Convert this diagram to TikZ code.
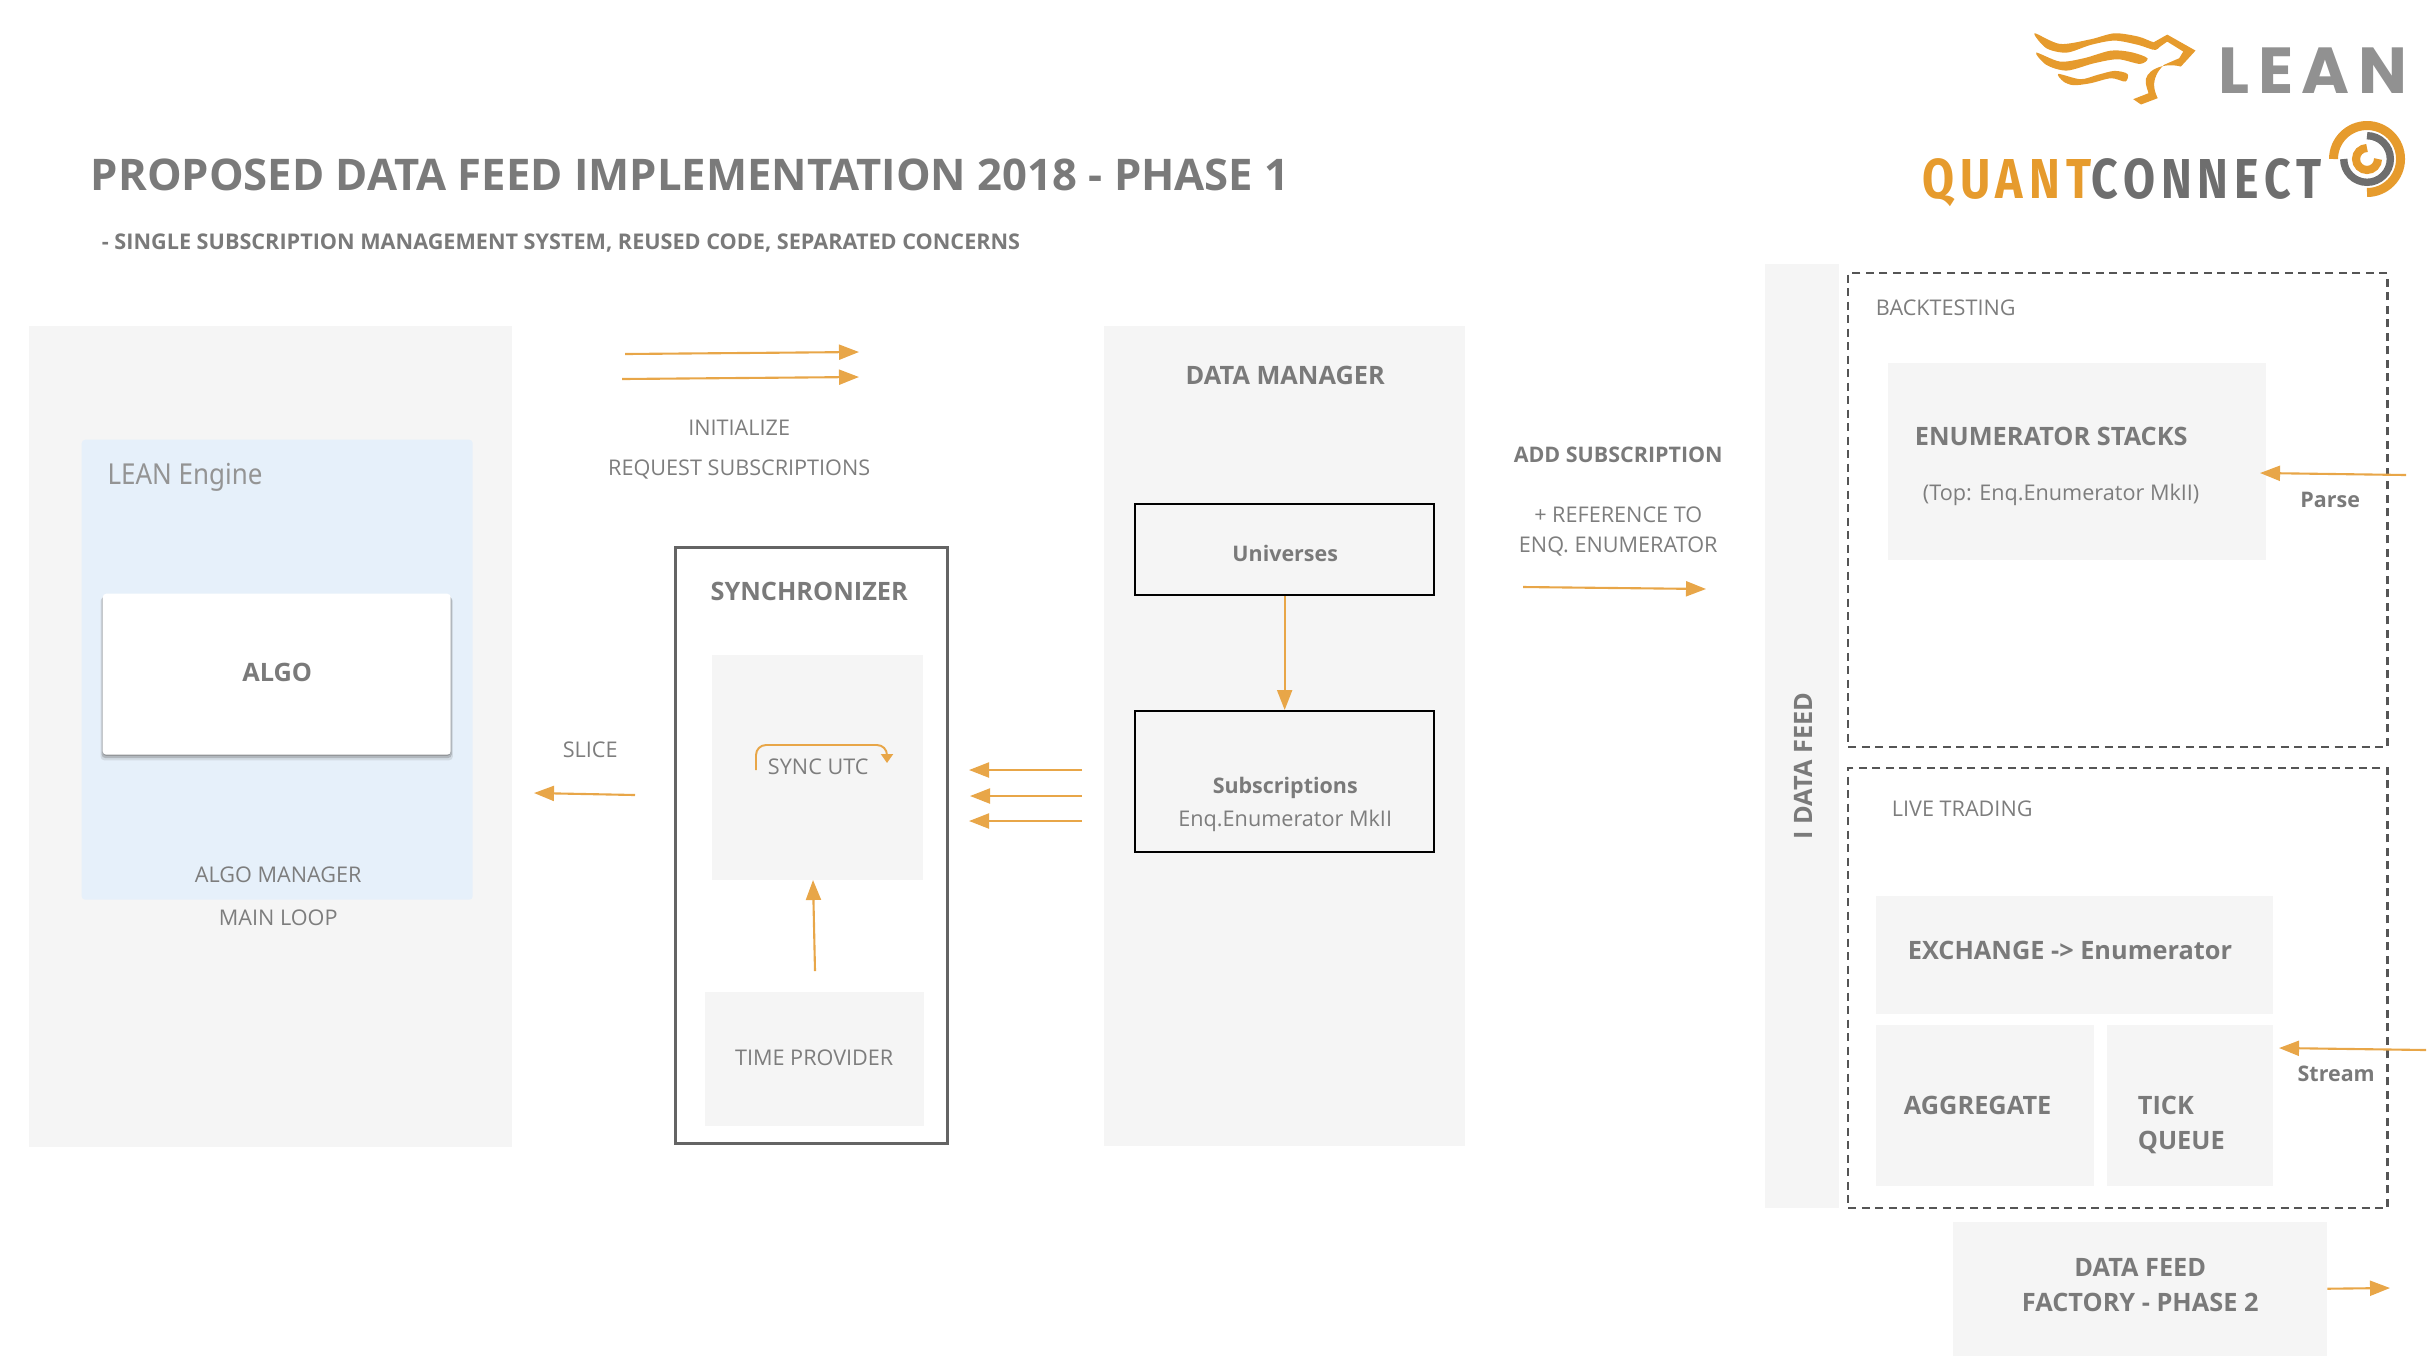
\documentclass[tikz,border=0pt]{standalone}
\usepackage{fontspec}
\setmainfont{Open Sans}
\newfontfamily\enginefont{Noto Sans}
\newfontfamily\leanfont[LetterSpace=13]{Poppins}
\newfontfamily\qcfont[LetterSpace=13]{Fira Sans}
\usetikzlibrary{arrows.meta,positioning,shadows}
\definecolor{panelgray}{RGB}{245,245,245}
\definecolor{engineblue}{RGB}{230,240,250}
\definecolor{txtgray}{RGB}{125,125,125}
\definecolor{headgray}{RGB}{122,122,122}
\definecolor{dashgray}{RGB}{85,85,85}
\definecolor{syncgray}{RGB}{100,100,100}
\definecolor{flow}{RGB}{232,166,72}
\definecolor{qcorange}{RGB}{230,155,45}
\definecolor{qcgray}{RGB}{110,110,110}
\definecolor{leangray}{RGB}{145,145,145}
\tikzset{
  sized/.style 2 args={minimum width=#1*0.01cm, minimum height=#2*0.01cm, inner sep=0pt, anchor=north west},
  panel/.style={fill=panelgray},
  blackbox/.style={draw=black, line width=0.65pt, align=center},
  dashbox/.style={draw=dashgray, line width=0.7pt, dash pattern=on 0.08cm off 0.055cm},
  softshadow/.style={drop shadow={shadow xshift=0cm, shadow yshift=-0.012cm, fill=black!60, opacity=0.4},
                     drop shadow={shadow xshift=0cm, shadow yshift=-0.028cm, shadow scale=1.006, fill=black!60, opacity=0.3},
                     drop shadow={shadow xshift=0cm, shadow yshift=-0.045cm, shadow scale=1.012, fill=black!60, opacity=0.15}},
  lbl/.style={inner sep=0pt, text depth=0pt, xshift=0.012cm, yshift=-0.002cm, text=txtgray, align=center, font=\fontsize{6.15}{8}\selectfont},
  lblb/.style={inner sep=0pt, text depth=0pt, xshift=0.012cm, yshift=-0.002cm, text=headgray, align=center, font=\fontsize{7.2}{10}\selectfont\bfseries},
  lbls/.style={lblb, font=\fontsize{6.1}{8}\selectfont\bfseries},
  flowarr/.style={-{Triangle[length=0.2cm, width=0.15cm]}, flow, line width=0.6pt},
}
\begin{document}
\begin{tikzpicture}[x=0.01cm, y=-0.01cm]
  \useasboundingbox (1,1) rectangle (2435,1367);
  % --- heading
  \node[lblb, anchor=west, font=\fontsize{12.4}{15}\selectfont\bfseries] (title) at (90,175)
       {PROPOSED DATA FEED IMPLEMENTATION 2018 - PHASE 1};
  \node[lblb, anchor=west, font=\fontsize{6.15}{8}\selectfont\bfseries] (subtitle) at (101,242)
       {- SINGLE SUBSCRIPTION MANAGEMENT SYSTEM, REUSED CODE, SEPARATED CONCERNS};
  % --- lean engine
  \node[panel, sized={483}{821}] (mainloop) at (29,326) {};
  \node[fill=engineblue, rounded corners=1pt, sized={391}{460}] (engine) at (82,440) {};
  \node[fill=white, rounded corners=1pt, sized={348}{161}, softshadow] (algo) at (103,594) {};
  \node[lblb] (algotxt) at (277,673) {ALGO};
  \node[inner sep=0pt, anchor=west, xscale=0.9, text=black!42, font=\fontsize{8.2}{9}\selectfont\enginefont] (enginetxt) at (108,478) {LEAN Engine};
  \node[lbl] (managertxt) at (278,875) {ALGO MANAGER};
  \node[lbl] (looptxt) at (278,918) {MAIN LOOP};
  \node[lbl] (slicetxt) at (590,750) {SLICE};
  \coordinate (sliceA) at (636,796);
  \coordinate (sliceB) at (535,794);
  \draw[flowarr] (sliceA) -- (sliceB);
  % --- top arrows
  \coordinate (initA) at (626,355);
  \coordinate (initB) at (860,353);
  \coordinate (reqA) at (623,380);
  \coordinate (reqB) at (860,378);
  \draw[flowarr] (initA) -- (initB);
  \draw[flowarr] (reqA) -- (reqB);
  \node[lbl] (inittxt) at (739,429) {INITIALIZE};
  \node[lbl] (reqtxt) at (739,468) {REQUEST SUBSCRIPTIONS};
  % --- synchronizer
  \node[draw=syncgray, line width=0.75pt, sized={272}{596}] (synchronizer) at (675,547) {};
  \node[lblb] (synctitle) at (809,592) {SYNCHRONIZER};
  \node[panel, sized={211}{225}] (syncbox) at (712,655) {};
  \node[panel, sized={219}{134}] (timebox) at (705,992) {};
  \node[lbl] (synctxt) at (818,767) {SYNC UTC};
  \node[lbl] (timetxt) at (814,1058) {TIME PROVIDER};
  \coordinate (loopA) at (757,771);
  \coordinate (loopB) at (888,764);
  \draw[-{Triangle[length=0.09cm, width=0.12cm]}, flow, line width=0.55pt, rounded corners=0.1cm]
       (loopA) -- (757,746) -- (888,746) -- (loopB);
  \coordinate (timeA) at (816,972);
  \coordinate (timeB) at (814,881);
  \draw[flowarr] (timeA) -- (timeB);
  \foreach \y/\x in {771/970, 797/971, 822/970}{
    \coordinate (feedA\y) at (1083,\y);
    \coordinate (feedB\y) at (\x,\y);
    \draw[flowarr] (feedA\y) -- (feedB\y);}
  % --- data manager
  \node[panel, sized={361}{820}] (manager) at (1104,326) {};
  \node[lblb] (managertitle) at (1285,376) {DATA MANAGER};
  \node[blackbox, sized={299}{91}] (universes) at (1135,504) {};
  \node[lbls] (universestxt) at (1285,554) {Universes};
  \node[blackbox, sized={299}{141}] (subscriptions) at (1135,711) {};
  \node[lbls] (subscrtxt) at (1285,786) {Subscriptions};
  \node[lbl] (mkiitxt) at (1285,819) {Enq.Enumerator MkII};
  \draw[flowarr] (universes) -- (subscriptions);
  % --- add subscription
  \node[lbls] (addtxt) at (1618,456) {ADD SUBSCRIPTION};
  \node[lbl] (reftxt) at (1618,515) {+ REFERENCE TO};
  \node[lbl] (enqtxt) at (1618,545) {ENQ. ENUMERATOR};
  \coordinate (addA) at (1524,588);
  \coordinate (addB) at (1707,590);
  \draw[flowarr] (addA) -- (addB);
  % --- data feed
  \node[panel, sized={74}{944}] (feedbar) at (1765,264) {};
  \node[lblb, rotate=90] (feedtxt) at (1803,767) {I DATA FEED};
  \node[dashbox, sized={539}{474}] (backtest) at (1848,273) {};
  \node[lbl, anchor=west] (backtxt) at (1875,308) {BACKTESTING};
  \node[panel, sized={378}{197}] (stacks) at (1888,363) {};
  \node[lblb, anchor=west] (stackstxt) at (1914,437) {ENUMERATOR STACKS};
  \node[lbl, anchor=west] (toptxt) at (1922,493) {(Top: Enq.Enumerator MkII)};
  \coordinate (parseA) at (2407,476);
  \coordinate (parseB) at (2261,474);
  \draw[flowarr] (parseA) -- (parseB);
  \node[lbls] (parsetxt) at (2330,501) {Parse};
  \node[dashbox, sized={539}{440}] (live) at (1848,768) {};
  \node[lbl, anchor=west] (livetxt) at (1891,809) {LIVE TRADING};
  \node[panel, sized={397}{118}] (exchange) at (1876,896) {};
  \node[panel, sized={218}{161}] (aggregate) at (1876,1025) {};
  \node[panel, sized={166}{161}] (tick) at (2107,1025) {};
  \node[lblb, anchor=west] (exchangetxt) at (1907,951) {EXCHANGE -> Enumerator};
  \node[lblb, anchor=west] (aggregatetxt) at (1903,1106) {AGGREGATE};
  \node[lblb, anchor=west] (ticktxt) at (2137,1106) {TICK};
  \node[lblb, anchor=west] (queuetxt) at (2137,1141) {QUEUE};
  \coordinate (streamA) at (2427,1051);
  \coordinate (streamB) at (2280,1049);
  \draw[flowarr] (streamA) -- (streamB);
  \node[lbls] (streamtxt) at (2336,1075) {Stream};
  \node[panel, sized={374}{134}] (factory) at (1953,1222) {};
  \node[lblb] (factorytxt) at (2140,1268) {DATA FEED};
  \node[lblb] (factorytxtb) at (2140,1303) {FACTORY - PHASE 2};
  \coordinate (factoryB) at (2391,1289);
  \draw[flowarr] (factory.east) -- (factoryB);
  % --- logos
  \begin{scope}[shift={(1901,1)}, x=0.0034cm, y=-0.00333cm]
    \fill[qcorange] plot[smooth cycle, tension=0.5] coordinates {(395,100) (470,132) (560,118) (630,100) (700,110) (745,127) (770,127) (750,150) (700,135) (630,122) (560,135) (490,158) (430,145)};
    \fill[qcorange] plot[smooth cycle, tension=0.5] coordinates {(400,158) (470,185) (540,175) (620,152) (680,157) (727,175) (705,192) (640,178) (570,190) (490,212) (430,195)};
    \fill[qcorange] plot[smooth cycle, tension=0.5] coordinates {(465,222) (530,238) (580,225) (630,213) (668,222) (662,245) (620,235) (560,250) (510,256) (480,245)};
    \fill[qcorange] (745,127) -- (785,104) -- (868,152) -- (825,200) .. controls (770,185) and (715,215) .. (722,250)
      .. controls (724,262) and (727,270) .. (730,280) -- (685,298) -- (708,314) -- (757,295)
      .. controls (745,270) and (735,235) .. (775,195) -- (820,175) -- (832,155) -- (785,125) -- (750,150) -- cycle;
  \end{scope}
  \node[inner sep=0pt, text depth=0pt, text=leangray, font=\fontsize{18.5}{20}\selectfont\leanfont\bfseries] (leanlogo) at (2314,72) {LEAN};
  \node[inner sep=0pt, text depth=0pt, xscale=0.825, font=\fontsize{16}{18}\selectfont\qcfont\bfseries] (qclogo) at (2123,180)
       {\textcolor{qcorange}{QUANT}\textcolor{qcgray}{CONNECT}};
  \coordinate (ringc) at (2368,160);
  \draw[qcorange, line width=2.56pt] (ringc) ++(-33.5,0) arc[start angle=-180, end angle=90, radius=33.5];
  \draw[qcgray, line width=2.1pt] (ringc) ++(0,-23.3) arc[start angle=-90, end angle=180, radius=23.3];
  \draw[qcorange, line width=2.3pt] (ringc) ++(0,-11) arc[start angle=-90, end angle=-360, radius=11];
\end{tikzpicture}
\end{document}
